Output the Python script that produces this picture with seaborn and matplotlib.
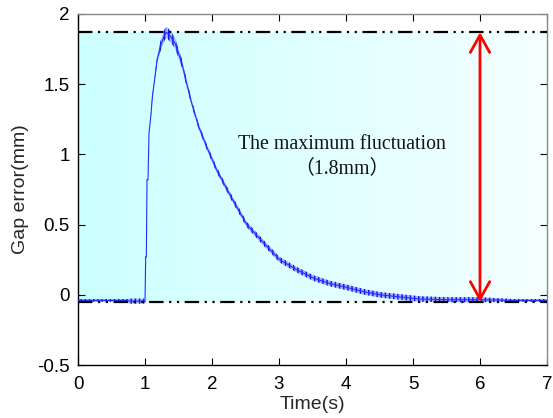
import numpy as np
import pandas as pd
import matplotlib
matplotlib.use("Agg")
import matplotlib.pyplot as plt
import seaborn as sns

# ---- data ----
time_s = [0.0, 0.25, 0.5, 0.74, 0.76, 0.9, 0.99, 1.0, 1.01, 1.02, 1.03, 1.045,
          1.06, 1.09, 1.11, 1.14, 1.18, 1.23, 1.29, 1.32, 1.38, 1.45, 1.55, 1.62,
          1.70, 1.80, 1.92, 2.07, 2.27, 2.52, 2.77, 3.01, 3.26, 3.51, 3.76, 4.01,
          4.26, 4.51, 4.76, 5.1, 5.5, 6.0, 6.5, 7.0]
gap_mm = [-0.04, -0.04, -0.04, -0.04, -0.045, -0.045, -0.045, -0.05, 0.27, 0.27,
          0.82, 0.82, 1.15, 1.29, 1.41, 1.52, 1.67, 1.77, 1.85, 1.87, 1.84, 1.79,
          1.65, 1.51, 1.36, 1.20, 1.055, 0.89, 0.71, 0.50, 0.37, 0.25, 0.18, 0.12,
          0.08, 0.053, 0.022, 0.0, -0.013, -0.03, -0.035, -0.035, -0.04, -0.04]
ripple_mm = [0.01, 0.01, 0.01, 0.01, 0.018, 0.018, 0.018, 0.004, 0.004, 0.004,
             0.004, 0.004, 0.006, 0.01, 0.012, 0.016, 0.024, 0.035, 0.04, 0.04,
             0.04, 0.038, 0.03, 0.025, 0.021, 0.02, 0.02, 0.02, 0.02, 0.02,
             0.02, 0.02, 0.02, 0.02, 0.02, 0.02, 0.02, 0.02, 0.02, 0.02,
             0.018, 0.018, 0.01, 0.01]
band_top = 1.87
band_bottom = -0.05
arrow_x = 6.0
x_ticks = [0, 1, 2, 3, 4, 5, 6, 7]
y_ticks = [-0.5, 0, 0.5, 1, 1.5, 2]
y_tick_labels = ["-0.5", "0", "0.5", "1", "1.5", "2"]
annotation = "The maximum fluctuation\n（1.8mm）"

df = pd.DataFrame({"t": time_s, "g": gap_mm, "r": ripple_mm})

sns.set_theme(style="ticks")
plt.rcParams["font.family"] = ["Liberation Sans", "DejaVu Sans"]
plt.rcParams["hatch.linewidth"] = 1.0

fig = plt.figure(figsize=(5.53, 4.18), dpi=100)
ax = fig.add_axes([78 / 553, 1 - 365 / 418, (547 - 78) / 553, (365 - 14) / 418])

# gradient background band
grad = np.linspace(0, 1, 256).reshape(1, -1)
cmap = matplotlib.colors.LinearSegmentedColormap.from_list(
    "cy", [(0.80, 1.0, 1.0), (0.96, 1.0, 1.0)])
ax.imshow(grad, extent=[0, 7, band_bottom, band_top], aspect="auto",
          cmap=cmap, zorder=0, interpolation="bilinear")

# ripple band
g = np.array(gap_mm)
r = np.array(ripple_mm)
ax.fill_between(time_s, g - r, g + r, facecolor="#a8b0ff", edgecolor="#0010f0",
                hatch="||||", linewidth=0, zorder=2)
sns.lineplot(data=df, x="t", y="g", ax=ax, color="#2030ff", linewidth=0.8,
             estimator=None, sort=False, zorder=3)

# dash-dot-dot reference lines
ddash = (0, (6.5, 2.5, 1, 2.5, 1, 2.5))
ax.axhline(band_top, color="black", lw=1.6, linestyle=ddash, zorder=4)
ax.axhline(band_bottom, color="black", lw=1.6, linestyle=ddash, zorder=4)

# red double arrow
ax.annotate("", xy=(arrow_x, band_top), xytext=(arrow_x, band_bottom),
            arrowprops=dict(arrowstyle="<->,head_length=0.5,head_width=0.28",
                            color="red", lw=2, mutation_scale=25,
                            shrinkA=0, shrinkB=0), zorder=5)

ax.text(3.94, 0.985, annotation, ha="center", va="center", fontsize=14.3,
        linespacing=1.3, family=["Liberation Serif", "Noto Sans CJK SC"],
        color="#111111", zorder=6)

ax.set_xlim(0, 7)
ax.set_ylim(-0.5, 2)
ax.set_xticks(x_ticks)
ax.set_xticklabels([str(v) for v in x_ticks])
ax.set_yticks(y_ticks)
ax.set_yticklabels(y_tick_labels)
ax.tick_params(direction="in", length=5, width=0.8, labelsize=13.5,
               top=True, right=True, colors="black", pad=6)
ax.tick_params(axis="x", pad=8)
ax.set_xlabel("Time(s)", fontsize=14, labelpad=2)
ax.set_ylabel("Gap error(mm)", fontsize=14, labelpad=6)
for s in ["left", "bottom"]:
    ax.spines[s].set_color("black")
    ax.spines[s].set_linewidth(1.0)
for s in ["top", "right"]:
    ax.spines[s].set_color("#888888")
    ax.spines[s].set_linewidth(1.0)
ax.set_facecolor("white")

fig.savefig("out.png", dpi=100)
